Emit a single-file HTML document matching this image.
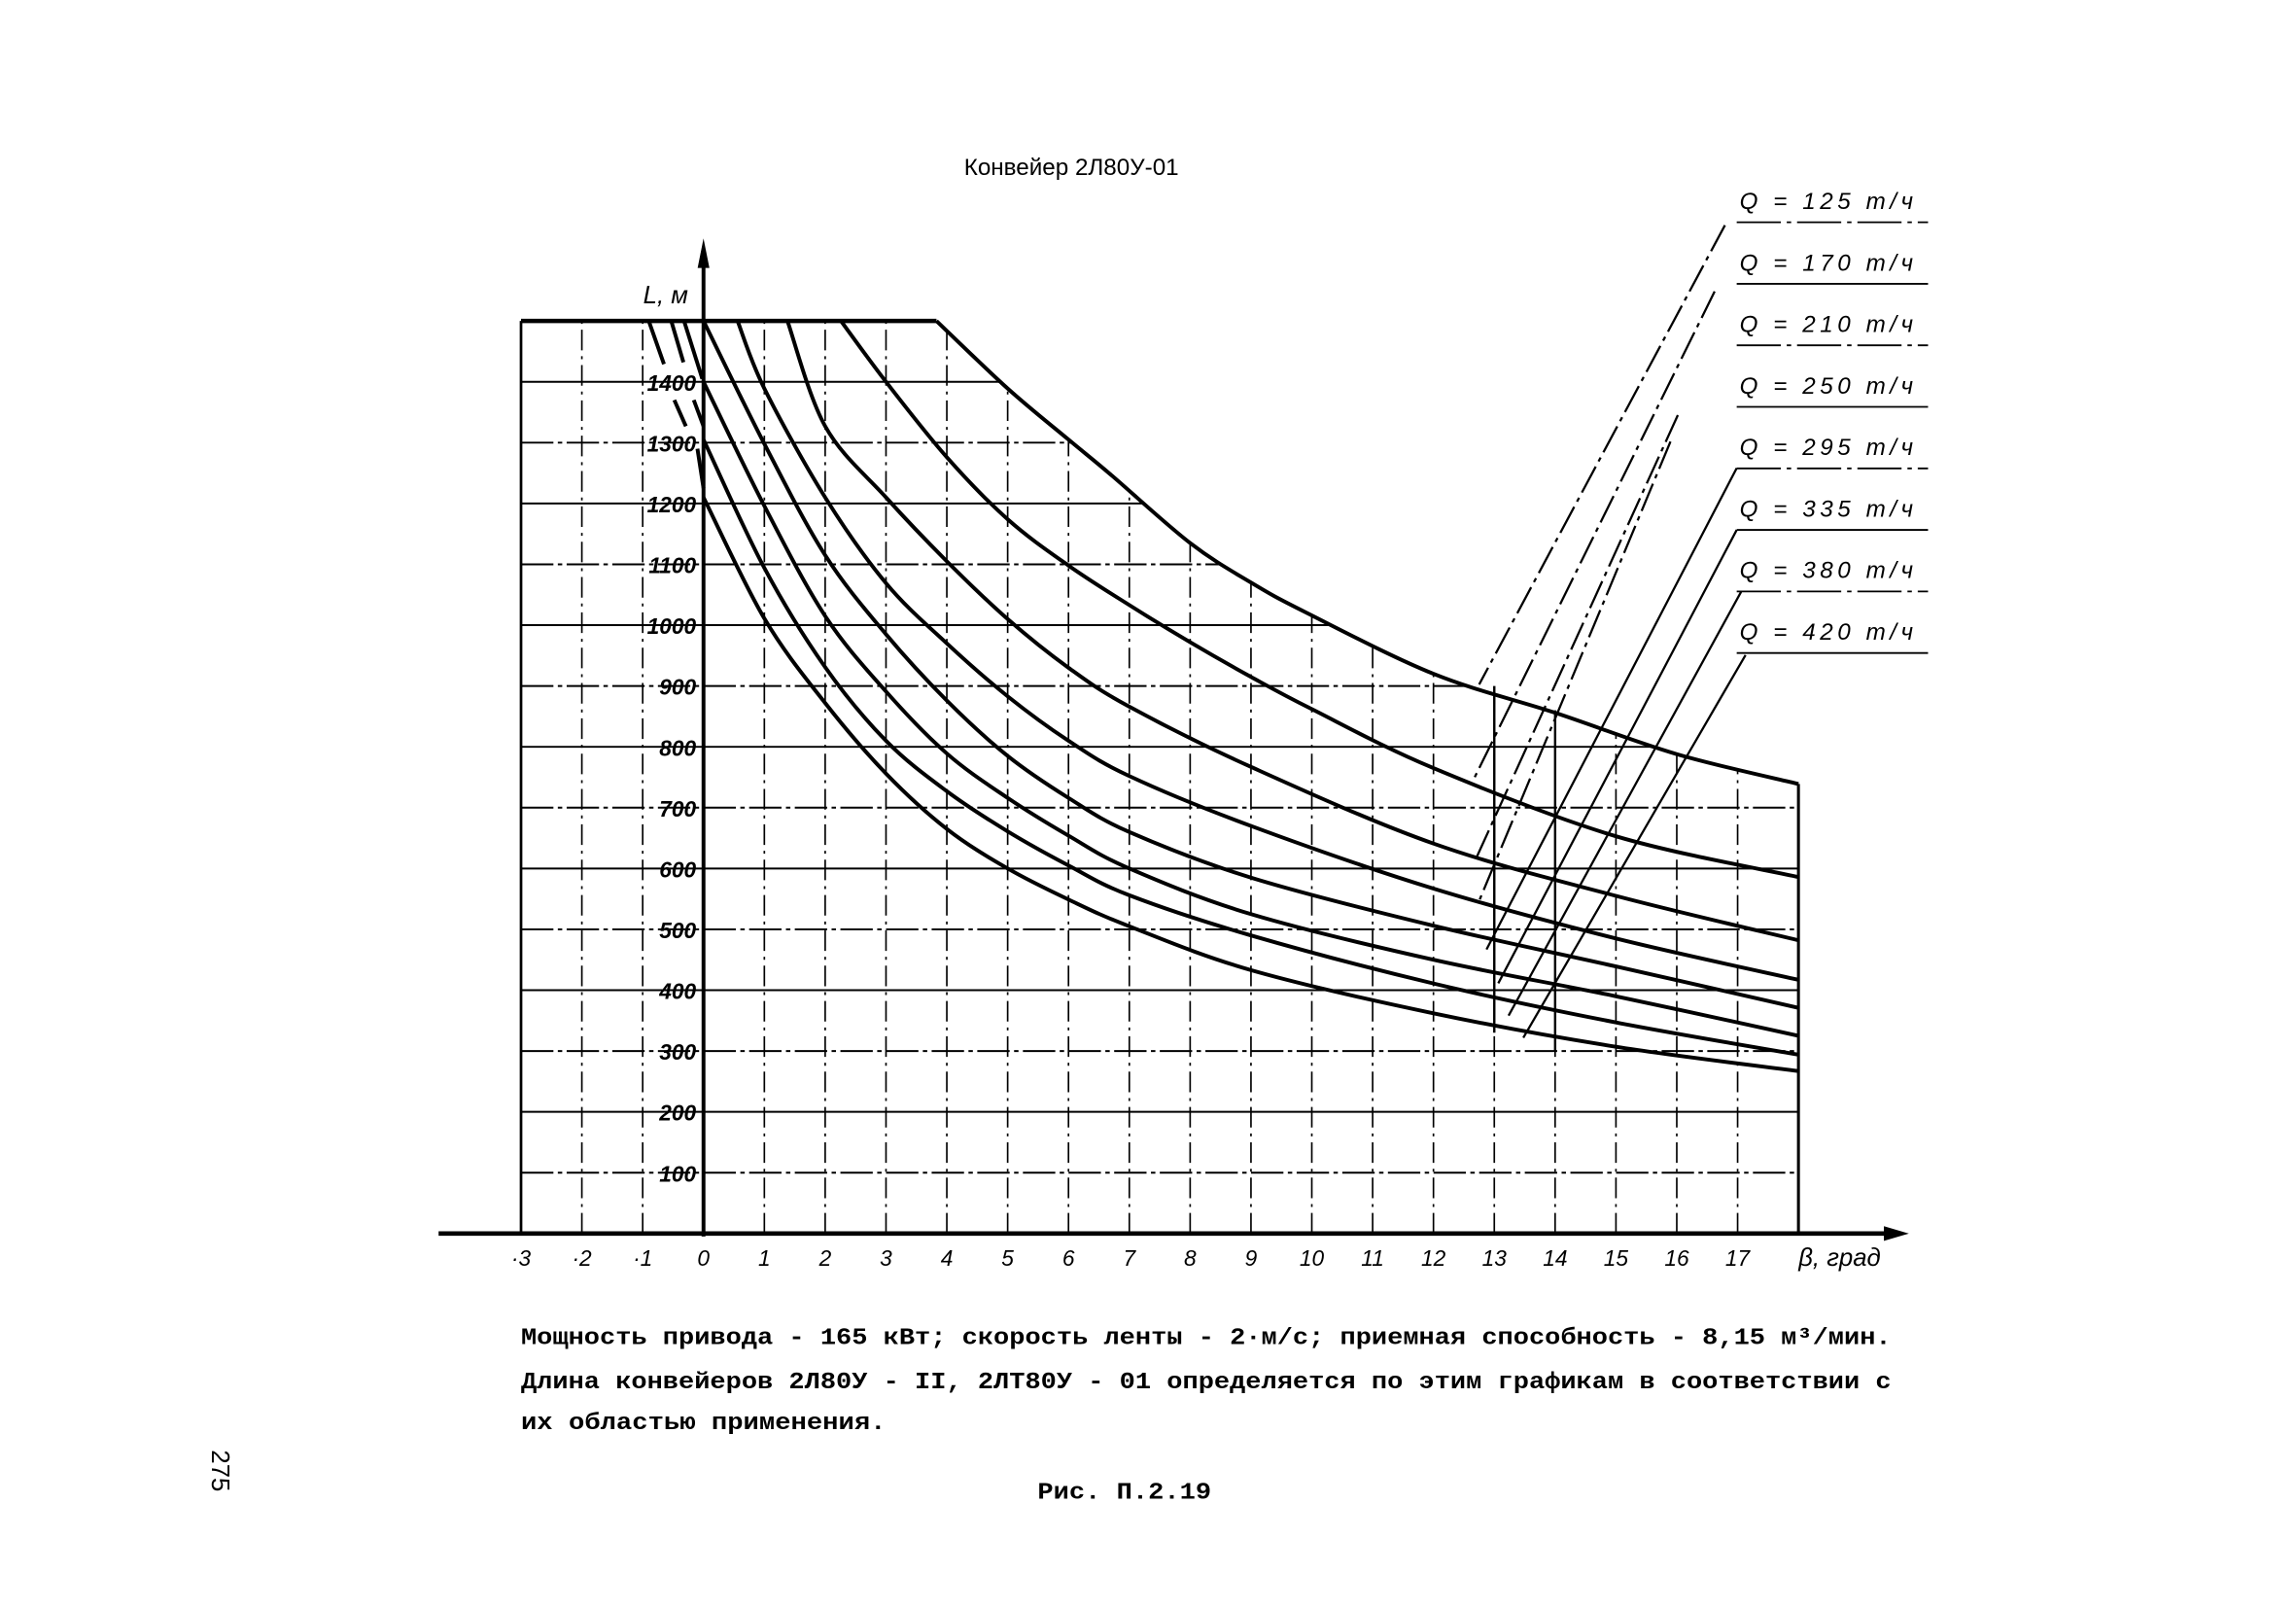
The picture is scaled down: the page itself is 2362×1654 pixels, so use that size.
<!DOCTYPE html>
<html><head><meta charset="utf-8"><style>
html,body{margin:0;padding:0;background:#fff}
svg{display:block}
text{font-family:"Liberation Sans","DejaVu Sans",sans-serif;fill:#000}
.it{font-style:italic}
.mono{font-family:"Liberation Mono","DejaVu Sans Mono",monospace;font-weight:bold}
</style></head><body>
<svg id="s" width="2362" height="1654" viewBox="0 0 2362 1654" xmlns="http://www.w3.org/2000/svg">
<g id="g" transform="scale(1.5141)"></g>
</svg>
<script>
const NS="http://www.w3.org/2000/svg";
const g=document.getElementById('g');
const X=b=>478+41.33*b, Y=L=>838-0.4133*L;
function el(t,a,p){const e=document.createElementNS(NS,t);for(const k in a)e.setAttribute(k,a[k]);(p||g).appendChild(e);return e;}
function txt(x,y,s,a){const e=el('text',Object.assign({x:x,y:y},a||{}));e.textContent=s;return e;}
const env=[[-3,1500],[3.83,1500],[5,1389],[6,1305],[6.7,1247],[8,1135],[9,1070],[9.9,1021],[12,920],[14,856],[16,788],[18,739]];
function cr(pts){
  const P=pts.map(p=>[X(p[0]),Y(p[1])]);let d='M'+P[0][0]+','+P[0][1];
  for(let i=0;i<P.length-1;i++){const p0=P[i-1]||P[i],p1=P[i],p2=P[i+1],p3=P[i+2]||p2;
    const c1=[p1[0]+(p2[0]-p0[0])/6,p1[1]+(p2[1]-p0[1])/6],c2=[p2[0]-(p3[0]-p1[0])/6,p2[1]-(p3[1]-p1[1])/6];
    d+=' C'+c1+' '+c2+' '+p2;}
  return d;}
const defs=el('defs',{});const cp=el('clipPath',{id:'c'},defs);
el('path',{d:cr(env.slice(1))+' L'+X(18)+','+Y(0)+' L'+X(-3)+','+Y(0)+' L'+X(-3)+','+Y(1500)+' Z'},cp);
const grid=el('g',{'clip-path':'url(#c)',stroke:'#000',fill:'none'});
for(let L=100;L<=1400;L+=100)el('line',{x1:X(-3),y1:Y(L),x2:X(18),y2:Y(L),'stroke-width':1.3,'stroke-dasharray':(L%200?'22,3,3,3':'none')},grid);
for(let b=-2;b<=17;b++){if(b==0)continue;el('line',{x1:X(b),y1:Y(0),x2:X(b),y2:Y(1500),'stroke-width':1.1,'stroke-dasharray':'14,4,2,4'},grid);}
el('line',{x1:X(13),y1:Y(900),x2:X(13),y2:Y(330),stroke:'#000','stroke-width':1.6});
el('line',{x1:X(14),y1:Y(860),x2:X(14),y2:Y(300),stroke:'#000','stroke-width':1.6});
el('line',{x1:X(-3),y1:Y(0),x2:X(-3),y2:Y(1500),stroke:'#000','stroke-width':1.8});
el('line',{x1:X(18),y1:Y(0),x2:X(18),y2:Y(739),stroke:'#000','stroke-width':2});
el('path',{d:cr(env.slice(1)),stroke:'#000','stroke-width':2.6,fill:'none'});
el('line',{x1:X(-3),y1:Y(1500),x2:X(3.83),y2:Y(1500),stroke:'#000','stroke-width':3});
const C=[
[[2.26,1500],[3,1400],[4,1276],[5,1174],[6,1098],[7,1033],[8,972],[9,915],[10,862],[12,765],[15,653],[18,586]],
[[1.38,1500],[2,1327],[3,1210],[4,1105],[5,1010],[6,930],[7,866],[9,767],[12,641],[15,555],[18,482]],
[[0.56,1500],[1,1389],[2,1210],[3,1069],[4,970],[5,883],[6,810],[7,752],[9,670],[12,567],[15,485],[18,417]],
[[0,1500],[1,1298],[2,1115],[3,985],[4,876],[5,785],[6,716],[7,660],[9,585],[12,506],[15,439],[18,371]],
[[0,1400],[1,1196],[2,1015],[3,891],[4,789],[5,716],[6,654],[7,600],[9,525],[12,450],[15,390],[18,325]],
[[0,1305],[1,1094],[2,931],[3,810],[4,727],[5,661],[6,605],[7,556],[9,490],[12,411],[15,347],[18,294]],
[[0,1210],[1,1011],[2,872],[3,756],[4,665],[5,600],[6,549],[7,505],[9,433],[12,362],[15,307],[18,267]]];
C.forEach(c=>el('path',{d:cr(c),stroke:'#000','stroke-width':2.6,fill:'none'}));
[[[-0.9,1500],[-0.65,1429]],[[-0.53,1500],[-0.33,1432]],[[-0.32,1500],[-0.02,1405]],[[-0.48,1370],[-0.29,1327]],[[-0.16,1370],[0,1327]],[[-0.1,1290],[0,1225]]]
.forEach(s=>el('line',{x1:X(s[0][0]),y1:Y(s[0][1]),x2:X(s[1][0]),y2:Y(s[1][1]),stroke:'#000','stroke-width':2.6}));
el('line',{x1:298,y1:838,x2:1290,y2:838,stroke:'#000','stroke-width':3});
el('path',{d:'M1297,838 L1280,833 L1280,843 Z',fill:'#000'});
el('line',{x1:478,y1:840,x2:478,y2:170,stroke:'#000','stroke-width':2.6});
el('path',{d:'M478,162 L474,182 L482,182 Z',fill:'#000'});
txt(437,206,'L, м',{class:'it','font-size':17});
for(let L=100;L<=1400;L+=100)txt(473,Y(L)+6,String(L),{class:'it','font-size':15,'text-anchor':'end','font-weight':'bold'});
for(let b=-3;b<=17;b++)txt(X(b),860,(b<0?'·'+(-b):String(b)),{class:'it','font-size':15,'text-anchor':'middle'});
txt(1222,860,'β, град',{class:'it','font-size':17});
txt(655,119,'Конвейер 2Л80У-01',{'font-size':16});
const Q=['125','170','210','250','295','335','380','420'];
Q.forEach((q,i)=>{const y=142+i*41.8;txt(1182,y,'Q = '+q+' т/ч',{class:'it','font-size':16,'letter-spacing':3});
 el('line',{x1:1180,y1:y+9,x2:1310,y2:y+9,stroke:'#000','stroke-width':1.2,'stroke-dasharray':i%2?'none':'30,4,3,4'});});
const Ld=[[1172,153,1005,465,1],[1165,198,1000,532,1],[1140,282,1003,583,1],[1135,300,1005,612,1],[1180,318,1010,645,0],[1180,360,1018,668,0],[1183,402,1025,690,0],[1186,445,1035,705,0]];
Ld.forEach(l=>el('line',{x1:l[0],y1:l[1],x2:l[2],y2:l[3],stroke:'#000','stroke-width':1.5,'stroke-dasharray':l[4]?'20,4,3,4':'none'}));
txt(354,913,'Мощность привода - 165 кВт; скорость ленты - 2·м/с; приемная способность - 8,15 м³/мин.',{class:'mono','font-size':16,textLength:931,lengthAdjust:'spacingAndGlyphs'});
txt(354,943,'Длина конвейеров 2Л80У - II, 2ЛТ80У - 01 определяется по этим графикам в соответствии с',{class:'mono','font-size':16,textLength:931,lengthAdjust:'spacingAndGlyphs'});
txt(354,971,'их областью применения.',{class:'mono','font-size':16,textLength:248,lengthAdjust:'spacingAndGlyphs'});
txt(705,1018,'Рис. П.2.19',{class:'mono','font-size':16,textLength:118,lengthAdjust:'spacingAndGlyphs'});
txt(0,0,'275',{'font-size':17,transform:'translate(144,985) rotate(90)'});
</script>
</body></html>
